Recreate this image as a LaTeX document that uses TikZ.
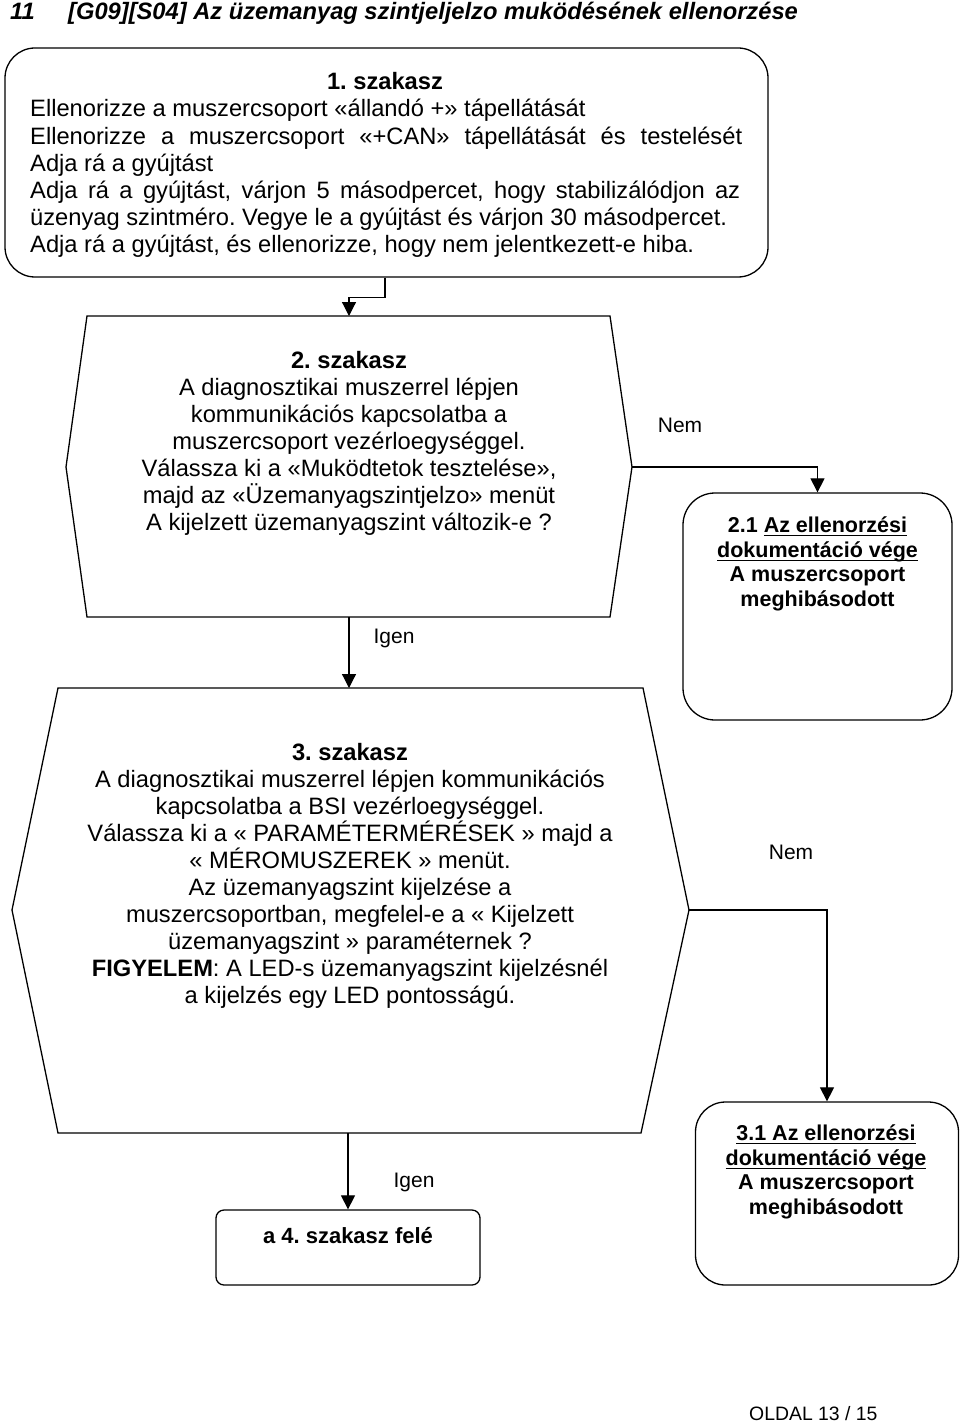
\documentclass[tikz,border=0pt]{standalone}
\usepackage{fontspec}
\setmainfont{Liberation Sans}
\usetikzlibrary{arrows.meta}
\frenchspacing
\newcommand\fsmain{\fontsize{23.7pt}{27.1pt}\selectfont}
\newcommand\fsend{\fontsize{21.5pt}{24.6pt}\selectfont}
\newcommand\ulx[1]{\leavevmode\setbox0\hbox{#1}\rlap{\rule[-3.8pt]{\wd0}{1.3pt}}\box0}
\tikzset{
  box/.style={draw, line width=1.3pt},
  arr/.style={-{Triangle[length=14pt,width=14pt]}, line width=1.2pt},
  lbl/.style={font=\fontsize{21pt}{24pt}\selectfont, inner sep=0},
  txt/.style={inner sep=0, anchor=base}
}
\begin{document}
\begin{tikzpicture}[x=1pt,y=-1pt]
\useasboundingbox (0,0) rectangle (960,1423);
\fill[white] (0,0) rectangle (960,1423);

% header
\node[inner sep=0, anchor=base west] (h11) at (10,20) {\fsmain\bfseries\itshape 11};
\node[inner sep=0, anchor=base west] (htitle) at (68,20) {\fsmain\bfseries\itshape [G09][S04] Az üzemanyag szintjeljelzo muködésének ellenorzése};

% box 1
\node[box, rounded corners=30pt, minimum width=763pt, minimum height=229pt, inner sep=0] (b1) at (386.5,162.5) {};
\node[txt] (t1h) at (385,90) {\fsmain\bfseries 1. szakasz};
\node[inner sep=0, anchor=base west] (t1) at (30,117) {\parbox[t]{712pt}{\fsmain\raggedright
Ellenorizze a muszercsoport «állandó +» tápellátását\\
\makebox[712pt][s]{Ellenorizze a muszercsoport «+CAN» tápellátását és testelését}\\
Adja rá a gyújtást\\
\makebox[710pt][s]{Adja rá a gyújtást, várjon 5 másodpercet, hogy stabilizálódjon az}\\
üzenyag szintméro. Vegye le a gyújtást és várjon 30 másodpercet.\\
Adja rá a gyújtást, és ellenorizze, hogy nem jelentkezett-e hiba.}};

% box 2
\draw[box] (87,316) -- (610,316) -- (632,467) coordinate (b2r) -- (610,617) -- (87,617) -- (66,467) -- cycle;
\coordinate (b2top) at (349,316);
\coordinate (b2bot) at (349,617);
\node[txt] (t2) at (349,368) {\parbox[t]{560pt}{\fsmain\centering
\textbf{2. szakasz}\\
A diagnosztikai muszerrel lépjen\\
kommunikációs kapcsolatba a\\
muszercsoport vezérloegységgel.\\
Válassza ki a «Muködtetok tesztelése»,\\
majd az «Üzemanyagszintjelzo» menüt\\
A kijelzett üzemanyagszint változik-e ?}};

% box 2.1
\node[box, rounded corners=32pt, minimum width=269pt, minimum height=227pt, inner sep=0] (b21) at (817.5,606.5) {};
\node[txt] (t21) at (817.5,532.5) {\parbox[t]{260pt}{\fsend\bfseries\centering
2.1 \ulx{Az ellenorzési}\\
\ulx{dokumentáció vége}\\
A muszercsoport\\
meghibásodott}};

% box 3
\draw[box] (58,688) -- (643,688) -- (689,910) coordinate (b3r) -- (641,1133) -- (58,1133) -- (12,910) -- cycle;
\coordinate (b3top) at (349,688);
\coordinate (b3bot) at (348,1133);
\node[txt] (t3) at (350,760) {\parbox[t]{640pt}{\fsmain\centering
\textbf{3. szakasz}\\
A diagnosztikai muszerrel lépjen kommunikációs\\
kapcsolatba a BSI vezérloegységgel.\\
Válassza ki a « PARAMÉTERMÉRÉSEK » majd a\\
« MÉROMUSZEREK » menüt.\\
Az üzemanyagszint kijelzése a\\
muszercsoportban, megfelel-e a « Kijelzett\\
üzemanyagszint » paraméternek ?\\
\textbf{FIGYELEM}: A LED-s üzemanyagszint kijelzésnél\\
a kijelzés egy LED pontosságú.}};

% box 3.1
\node[box, rounded corners=30pt, minimum width=263pt, minimum height=183pt, inner sep=0] (b31) at (827,1193.5) {};
\node[txt] (t31) at (826,1140.5) {\parbox[t]{255pt}{\fsend\bfseries\centering
\ulx{3.1 Az ellenorzési}\\
\ulx{dokumentáció vége}\\
A muszercsoport\\
meghibásodott}};

% box 4
\node[box, rounded corners=8pt, minimum width=264pt, minimum height=75pt, inner sep=0] (b4) at (348,1247.5) {};
\node[txt] (t4) at (348,1243) {\fontsize{22pt}{25pt}\selectfont\bfseries a 4. szakasz felé};

% connectors
\draw[arr] ([xshift=-1.5pt]b1.south) -- ++(0,20) -| (b2top);
\draw[arr] (b2r) -| (b21.north);
\draw[arr] (b2bot) -- (b3top);
\draw[arr] (b3r) -| (b31.north);
\draw[arr] (b3bot) -- (b4.north);

% labels
\node[lbl] (nem1) at (680,425) {Nem};
\node[lbl] (igen1) at (394,638) {Igen};
\node[lbl] (nem2) at (791,852) {Nem};
\node[lbl] (igen2) at (414,1182) {Igen};

% footer
\node[inner sep=0, anchor=base west] (foot) at (749,1420) {\fontsize{19.4pt}{22pt}\selectfont OLDAL 13 / 15};
\end{tikzpicture}
\end{document}
